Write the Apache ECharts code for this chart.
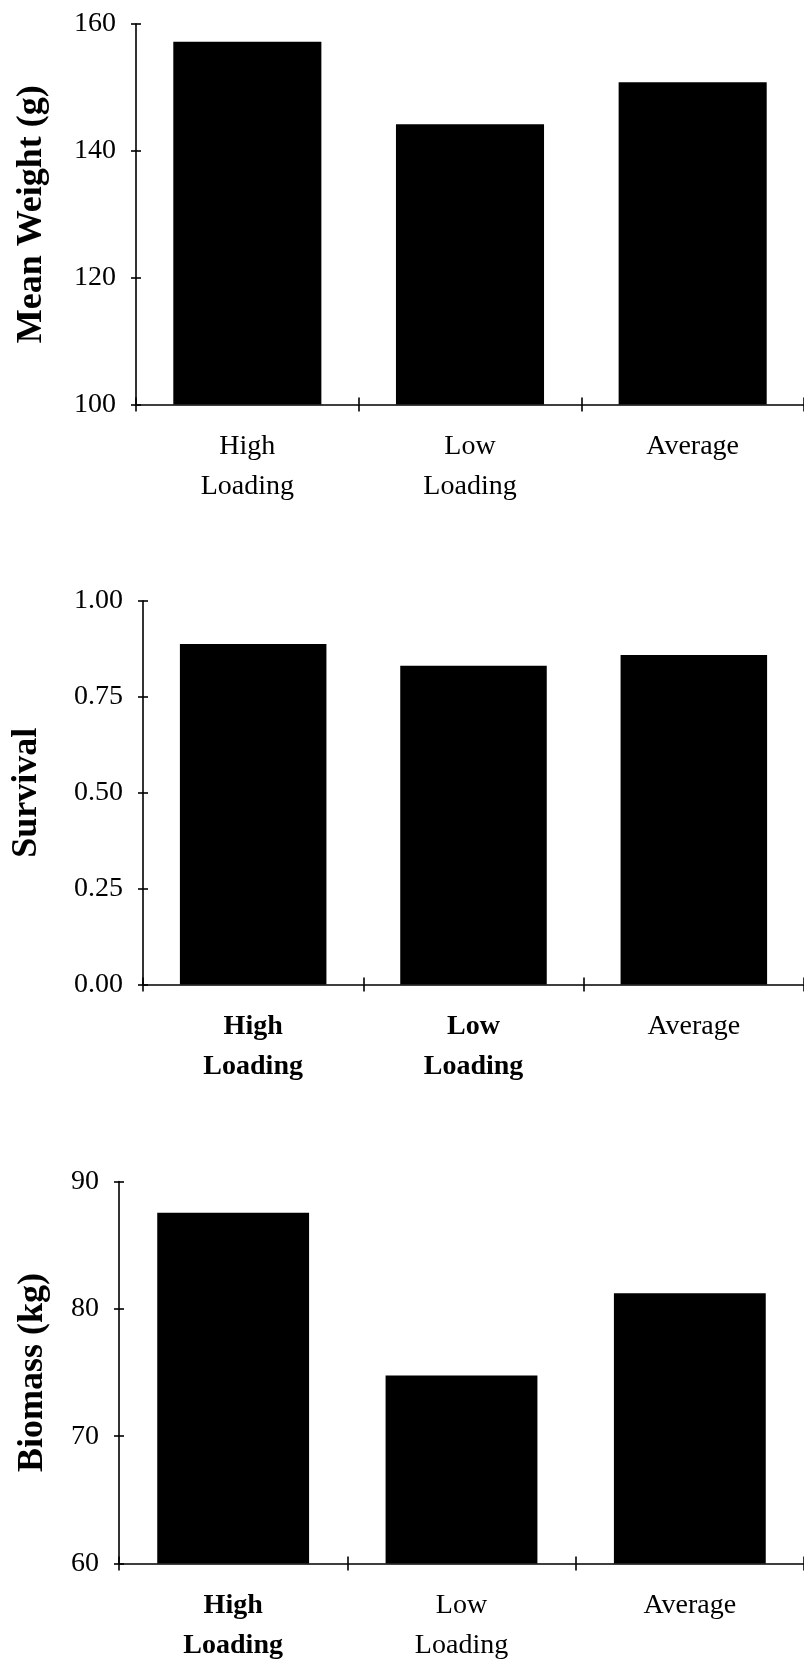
<!DOCTYPE html>
<html>
<head>
<meta charset="utf-8">
<style>
  html, body { margin: 0; padding: 0; background: #ffffff; }
  #chart { width: 804px; height: 1661px; }
</style>
<script src="https://cdn.jsdelivr.net/npm/echarts@6/dist/echarts.min.js"></script>
</head>
<body>
<div id="chart"></div>
<script>
// ---- data ----
const categories = ['High\nLoading', 'Low\nLoading', 'Average'];
const meanWeight = [157.2, 144.2, 150.8];
const survival = [0.888, 0.831, 0.859];
const biomass = [87.55, 74.76, 81.23];

const weightAxis = { min: 100, max: 160, interval: 20 };
const survivalAxis = { min: 0, max: 1, interval: 0.25 };
const biomassAxis = { min: 60, max: 90, interval: 10 };

const titles = ['Mean Weight (g)', 'Survival', 'Biomass (kg)'];

// ---- style ----
const FONT = '"Liberation Serif", "Times New Roman", serif';
const INK = '#000000';

const grids = [
  { left: 136, top: 24, height: 380.5, width: 673 },
  { left: 143, top: 601, height: 383.5, width: 666 },
  { left: 119, top: 1181.5, height: 382, width: 692 }
];

const nameGaps = [86, 98, 68];
// which category labels appear bold in each panel
const boldMask = [
  [false, false, false],
  [true, true, false],
  [true, false, false]
];

function catFormatter(panel) {
  return function (value, index) {
    const style = boldMask[panel][index] ? 'b' : 'n';
    return value.split('\n').map(s => '{' + style + '|' + s + '}').join('\n');
  };
}

const xAxes = [], yAxes = [], series = [];
const yConf = [weightAxis, survivalAxis, biomassAxis];
const values = [meanWeight, survival, biomass];

for (let p = 0; p < 3; p++) {
  // main x axis
  xAxes.push({
    type: 'category', gridIndex: p, data: categories,
    boundaryGap: true,
    axisLine: { show: true, lineStyle: { color: INK, width: 1.6 } },
    axisTick: { show: true, length: 7, lineStyle: { color: INK, width: 1.6 } },
    axisLabel: {
      margin: 22, color: INK, fontFamily: FONT, fontSize: 28,
      formatter: catFormatter(p),
      rich: {
        n: { fontFamily: FONT, fontSize: 28, lineHeight: 40, color: INK, fontWeight: 'normal' },
        b: { fontFamily: FONT, fontSize: 28, lineHeight: 40, color: INK, fontWeight: 'bold' }
      }
    },
    splitLine: { show: false }
  });
  // inner tick companion x axis
  xAxes.push({
    type: 'category', gridIndex: p, data: categories, position: 'bottom',
    boundaryGap: true,
    axisLine: { show: false },
    axisTick: { show: true, inside: true, length: 7, lineStyle: { color: INK, width: 1.6 } },
    axisLabel: { show: false },
    splitLine: { show: false }
  });

  const yc = yConf[p];
  yAxes.push({
    type: 'value', gridIndex: p, min: yc.min, max: yc.max, interval: yc.interval,
    name: titles[p], nameLocation: 'middle', nameRotate: 90, nameGap: nameGaps[p],
    nameTextStyle: { fontFamily: FONT, fontSize: 36, fontWeight: 'bold', color: INK },
    axisLine: { show: true, lineStyle: { color: INK, width: 1.6 } },
    axisTick: { show: true, length: 5, lineStyle: { color: INK, width: 1.6 } },
    axisLabel: {
      margin: 20, color: INK, fontFamily: FONT, fontSize: 28,
      formatter: p === 1 ? (v => v.toFixed(2)) : (v => String(v))
    },
    splitLine: { show: false }
  });
  yAxes.push({
    type: 'value', gridIndex: p, min: yc.min, max: yc.max, interval: yc.interval,
    position: 'left',
    axisLine: { show: false },
    axisTick: { show: true, inside: true, length: 5, lineStyle: { color: INK, width: 1.6 } },
    axisLabel: { show: false },
    splitLine: { show: false }
  });

  series.push({
    type: 'bar',
    xAxisIndex: p * 2, yAxisIndex: p * 2,
    data: values[p],
    barCategoryGap: '33.5%',
    itemStyle: { color: INK },
    silent: true
  });
}

const chart = echarts.init(document.getElementById('chart'), null, { renderer: 'canvas' });
chart.setOption({
  animation: false,
  backgroundColor: '#ffffff',
  grid: grids,
  xAxis: xAxes,
  yAxis: yAxes,
  series: series
});
</script>
</body>
</html>
